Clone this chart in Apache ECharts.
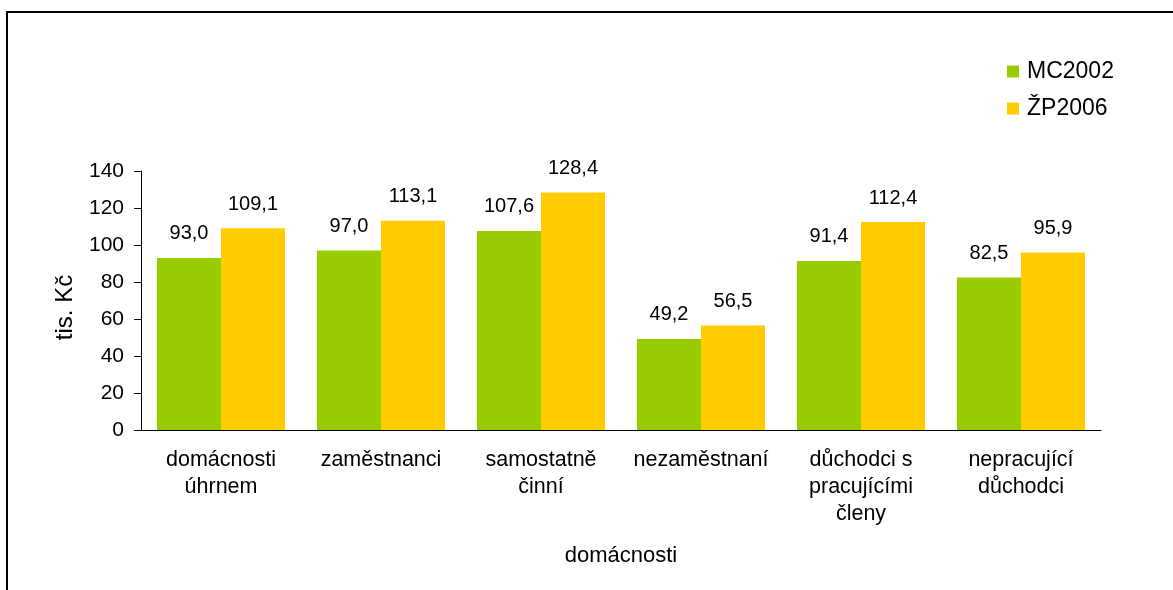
<!DOCTYPE html>
<html>
<head>
<meta charset="utf-8">
<script src="https://cdn.jsdelivr.net/npm/echarts@6/dist/echarts.min.js"></script>
<style>
  html, body { margin: 0; padding: 0; background: #fff; }
  #chart { width: 1173px; height: 590px; }
</style>
</head>
<body>
<div id="chart"></div>
<script>
// kategorie domácností
var categories = ['domácnosti\núhrnem', 'zaměstnanci', 'samostatně\nčinní', 'nezaměstnaní', 'důchodci s\npracujícími\nčleny', 'nepracující\ndůchodci'];
var mc2002 = [93.0, 97.0, 107.6, 49.2, 91.4, 82.5];
var zp2006 = [109.1, 113.1, 128.4, 56.5, 112.4, 95.9];
var seriesNames = ['MC2002', 'ŽP2006'];
var yTicks = [0, 20, 40, 60, 80, 100, 120, 140];

var font = 'Liberation Sans, Arial, sans-serif';

var chart = echarts.init(document.getElementById('chart'));

function fmt(v){
	return v.toFixed(1).replace('.', ',');
}

chart.setOption({
	backgroundColor: '#fff',
	animation: false,
	textStyle: { fontFamily: font },
	graphic: [{
		type: 'rect',
		shape: { x: 7, y: 12, width: 1300, height: 700 },
		style: { fill: 'none', stroke: '#000', lineWidth: 2 },
		silent: true
	}],
	legend: {
		data: seriesNames,
		orient: 'vertical',
		left: 1007,
		top: 60,
		padding: 0,
		itemWidth: 12,
		itemHeight: 12,
		itemGap: 14,
		icon: 'rect',
		textStyle: { fontSize: 23, color: '#000', fontFamily: font, padding: [0, 0, 0, 3] }
	},
	grid: { left: 141, right: 72, top: 171, bottom: 160 },
	xAxis: {
		type: 'category',
		data: categories,
		name: 'domácnosti',
		nameLocation: 'middle',
		nameGap: 115,
		nameTextStyle: { fontSize: 22, color: '#000', fontFamily: font },
		axisLine: { lineStyle: { color: '#000', width: 1 } },
		axisTick: { length: 6, lineStyle: { color: '#000' } },
		axisLabel: { fontSize: 21.5, color: '#000', margin: 17, lineHeight: 27, interval: 0, fontFamily: font }
	},
	yAxis: {
		type: 'value',
		min: yTicks[0],
		max: yTicks[yTicks.length - 1],
		interval: 20,
		name: 'tis. Kč',
		nameLocation: 'middle',
		nameGap: 64,
		nameTextStyle: { fontSize: 24, color: '#000', fontFamily: font, padding: [0, 14, 0, 0] },
		axisLine: { show: true, lineStyle: { color: '#000', width: 1 } },
		axisTick: { show: true, length: 7, lineStyle: { color: '#000' } },
		axisLabel: { fontSize: 21, color: '#000', margin: 17, fontFamily: font },
		splitLine: { show: false }
	},
	series: [{
		name: seriesNames[0],
		type: 'bar',
		data: mc2002,
		barWidth: 64,
		barGap: '0%',
		itemStyle: { color: '#99CC00' },
		label: { show: true, position: 'top', distance: 14, fontSize: 20, color: '#000', fontFamily: font,
			formatter: function(p){ return fmt(p.value); } }
	}, {
		name: seriesNames[1],
		type: 'bar',
		data: zp2006,
		barWidth: 64,
		barGap: '0%',
		itemStyle: { color: '#FFCC00' },
		label: { show: true, position: 'top', distance: 14, fontSize: 20, color: '#000', fontFamily: font,
			formatter: function(p){ return fmt(p.value); } }
	}]
});
</script>
</body>
</html>
